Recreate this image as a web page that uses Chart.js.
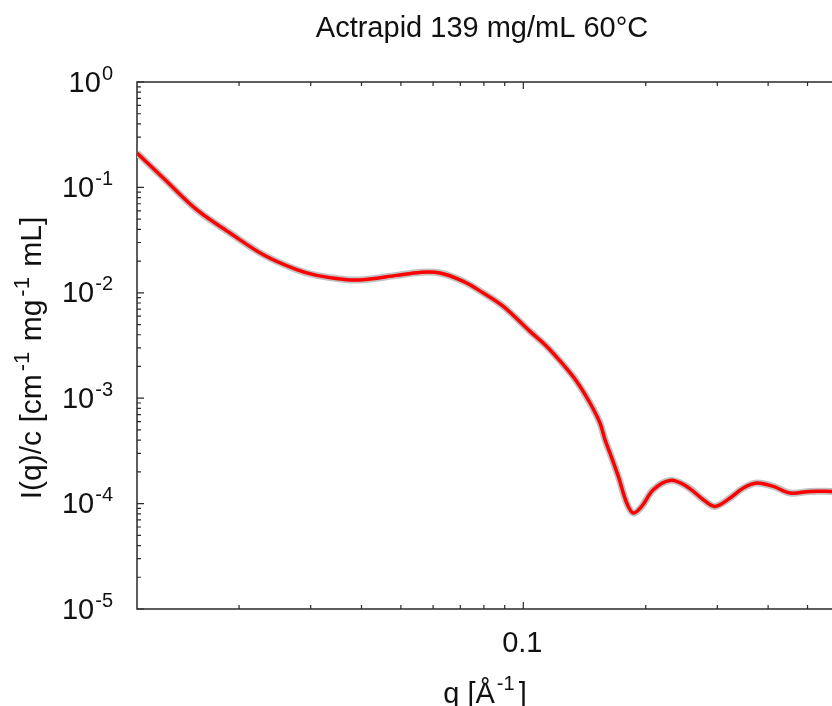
<!DOCTYPE html>
<html lang="en">
<head>
<meta charset="UTF-8">
<title>Actrapid 139 mg/mL 60°C</title>
<script src="https://cdn.jsdelivr.net/npm/chart.js@4.4.0/dist/chart.umd.min.js"></script>
<style>
  html, body { margin: 0; padding: 0; background: #fff; overflow: hidden; }
  #wrap { width: 832px; height: 706px; }
</style>
</head>
<body>
<div id="wrap"><canvas id="chart"></canvas></div>
<script>
// scattering vector q [1/A]
const qValues = [
  0.01122, 0.01302, 0.01573, 0.0190, 0.02294, 0.02772, 0.03103, 0.03678,
  0.04042, 0.04883, 0.05569, 0.06238, 0.07119, 0.07973, 0.08929, 0.10387,
  0.11418, 0.12543, 0.13531, 0.14588, 0.15437, 0.1588, 0.16336, 0.17126,
  0.17962, 0.18646, 0.19554, 0.20876, 0.22951, 0.25223, 0.27715, 0.2961,
  0.32245, 0.3476, 0.37497, 0.41201, 0.45278, 0.5072, 0.5743
];
// measured I(q)/c
const intensityData = [
  0.2120, 0.1228, 0.06143, 0.03694, 0.02298, 0.01657, 0.01463, 0.01331,
  0.01331, 0.01463, 0.01562, 0.01541, 0.01283, 0.009957, 0.00743, 0.004303,
  0.003101, 0.002078, 0.001443, 0.0009004, 0.0005816, 0.000404, 0.000302, 0.0001811,
  0.0001013, 0.00008143, 0.00009406, 0.0001355, 0.000166, 0.0001456, 0.0001089, 0.00009406,
  0.000113, 0.0001406, 0.0001568, 0.0001456, 0.000126, 0.0001305, 0.0001305
];
// model fit, follows the data closely
const intensityFit = [
  0.2120, 0.1228, 0.06143, 0.03694, 0.02298, 0.01657, 0.01463, 0.01331,
  0.01331, 0.01463, 0.01562, 0.01541, 0.01283, 0.009957, 0.00743, 0.004303,
  0.003101, 0.002078, 0.001443, 0.0009004, 0.0005816, 0.000404, 0.000302, 0.0001811,
  0.0001013, 0.00008143, 0.00009406, 0.0001355, 0.000166, 0.0001456, 0.0001089, 0.00009406,
  0.000113, 0.0001406, 0.0001568, 0.0001456, 0.000126, 0.0001305, 0.0001305
];
const yTickExponents = [0, -1, -2, -3, -4, -5];
const xTickValues = [0.1];
const xTickLabels = ['0.1'];

const qMin = 0.01122, qMax = 0.5743;
const FONT = '"Liberation Sans", Arial, Helvetica, sans-serif';
const MAIN_PX = 29;

// draws text runs where some parts are superscripts
// part = [text, isSup, extraSpaceAfter]
function drawRich(ctx, parts, x, y, align, supRise, supPx, mainPx) {
  const base = mainPx || MAIN_PX;
  const widths = parts.map(p => {
    ctx.font = (p[1] ? supPx : base) + 'px ' + FONT;
    return ctx.measureText(p[0]).width + (p[2] || 0);
  });
  const total = widths.reduce((a, b) => a + b, 0);
  let cx = align === 'right' ? x - total : align === 'center' ? x - total / 2 : x;
  ctx.textAlign = 'left';
  ctx.textBaseline = 'alphabetic';
  parts.forEach((p, i) => {
    ctx.font = (p[1] ? supPx : base) + 'px ' + FONT;
    ctx.fillText(p[0], cx, p[1] ? y - supRise : y);
    cx += widths[i];
  });
}

function decadeTicks(min, max) {
  const out = [];
  for (let e = Math.floor(Math.log10(min)); e <= Math.ceil(Math.log10(max)); e++) {
    for (let m = 1; m <= 9; m++) {
      const v = m * Math.pow(10, e);
      if (v >= min * 0.999 && v <= max * 1.001) out.push({ v, major: m === 1 });
    }
  }
  return out;
}

const framePlugin = {
  id: 'frame',
  beforeDatasetsDraw(chart) {
    const { ctx, chartArea: a, scales } = chart;
    ctx.save();
    ctx.strokeStyle = '#2a2a2a';
    ctx.lineWidth = 1.5;
    ctx.beginPath();
    ctx.moveTo(a.right + 2, a.top);
    ctx.lineTo(a.left, a.top);
    ctx.lineTo(a.left, a.bottom);
    ctx.lineTo(a.right + 2, a.bottom);
    ctx.stroke();
    ctx.lineWidth = 1.2;
    ctx.beginPath();
    decadeTicks(1e-5, 1).forEach(t => {
      const py = scales.y.getPixelForValue(t.v);
      ctx.moveTo(a.left, py);
      ctx.lineTo(a.left + (t.major ? 7 : 4), py);
    });
    decadeTicks(qMin, qMax).forEach(t => {
      const px = scales.x.getPixelForValue(t.v);
      const len = t.major ? 7 : 4;
      ctx.moveTo(px, a.bottom);
      ctx.lineTo(px, a.bottom - len);
      ctx.moveTo(px, a.top);
      ctx.lineTo(px, a.top + len);
    });
    ctx.stroke();
    ctx.restore();
  },
  afterDraw(chart) {
    const { ctx, scales } = chart;
    ctx.save();
    ctx.fillStyle = '#111';
    // y tick labels 10^n
    yTickExponents.forEach(e => {
      const py = scales.y.getPixelForValue(Math.pow(10, e));
      drawRich(ctx, [['10', false, 1], [String(e), true]], 113, py + 9.5, 'right', 12, 20);
    });
    // x tick labels
    ctx.font = MAIN_PX + 'px ' + FONT;
    ctx.textAlign = 'center';
    ctx.textBaseline = 'alphabetic';
    xTickValues.forEach((v, i) => {
      ctx.fillText(xTickLabels[i], scales.x.getPixelForValue(v) - 1, 652);
    });
    // title
    ctx.font = MAIN_PX + 'px ' + FONT;
    ctx.fillText('Actrapid 139 mg/mL 60°C', 482, 37);
    // x axis title
    drawRich(ctx, [['q [Å', false, 2], ['-1', true, 4], [']', false]], 485, 703, 'center', 13, 20);
    // y axis title, rotated
    ctx.translate(41, 358);
    ctx.rotate(-Math.PI / 2);
    drawRich(ctx, [
      ['I(q)/c [cm', false, 3], ['-1', true, 2], [' mg', false, 3], ['-1', true, 2], [' mL]', false]
    ], 0, 0, 'center', 12, 22, 30);
    ctx.restore();
  }
};

const ctx = document.getElementById('chart').getContext('2d');
new Chart(ctx, {
  type: 'line',
  data: {
    datasets: [
      {
        label: 'fit',
        data: qValues.map((q, i) => ({ x: q, y: intensityFit[i] })),
        borderColor: '#ff0000',
        borderWidth: 3.5,
        pointRadius: 0,
        tension: 0.35,
        fill: false,
        order: 0
      },
      {
        label: 'data',
        data: qValues.map((q, i) => ({ x: q, y: intensityData[i] })),
        borderColor: '#c2c2c2',
        borderWidth: 7,
        pointRadius: 0,
        tension: 0.35,
        fill: false,
        order: 1
      }
    ]
  },
  options: {
    responsive: true,
    maintainAspectRatio: false,
    animation: false,
    layout: { padding: { left: 137, top: 82, right: 0, bottom: 97 } },
    scales: {
      x: { type: 'logarithmic', min: qMin, max: qMax, display: false },
      y: { type: 'logarithmic', min: 1e-5, max: 1, display: false }
    },
    plugins: { legend: { display: false }, tooltip: { enabled: false } }
  },
  plugins: [framePlugin]
});
</script>
</body>
</html>
